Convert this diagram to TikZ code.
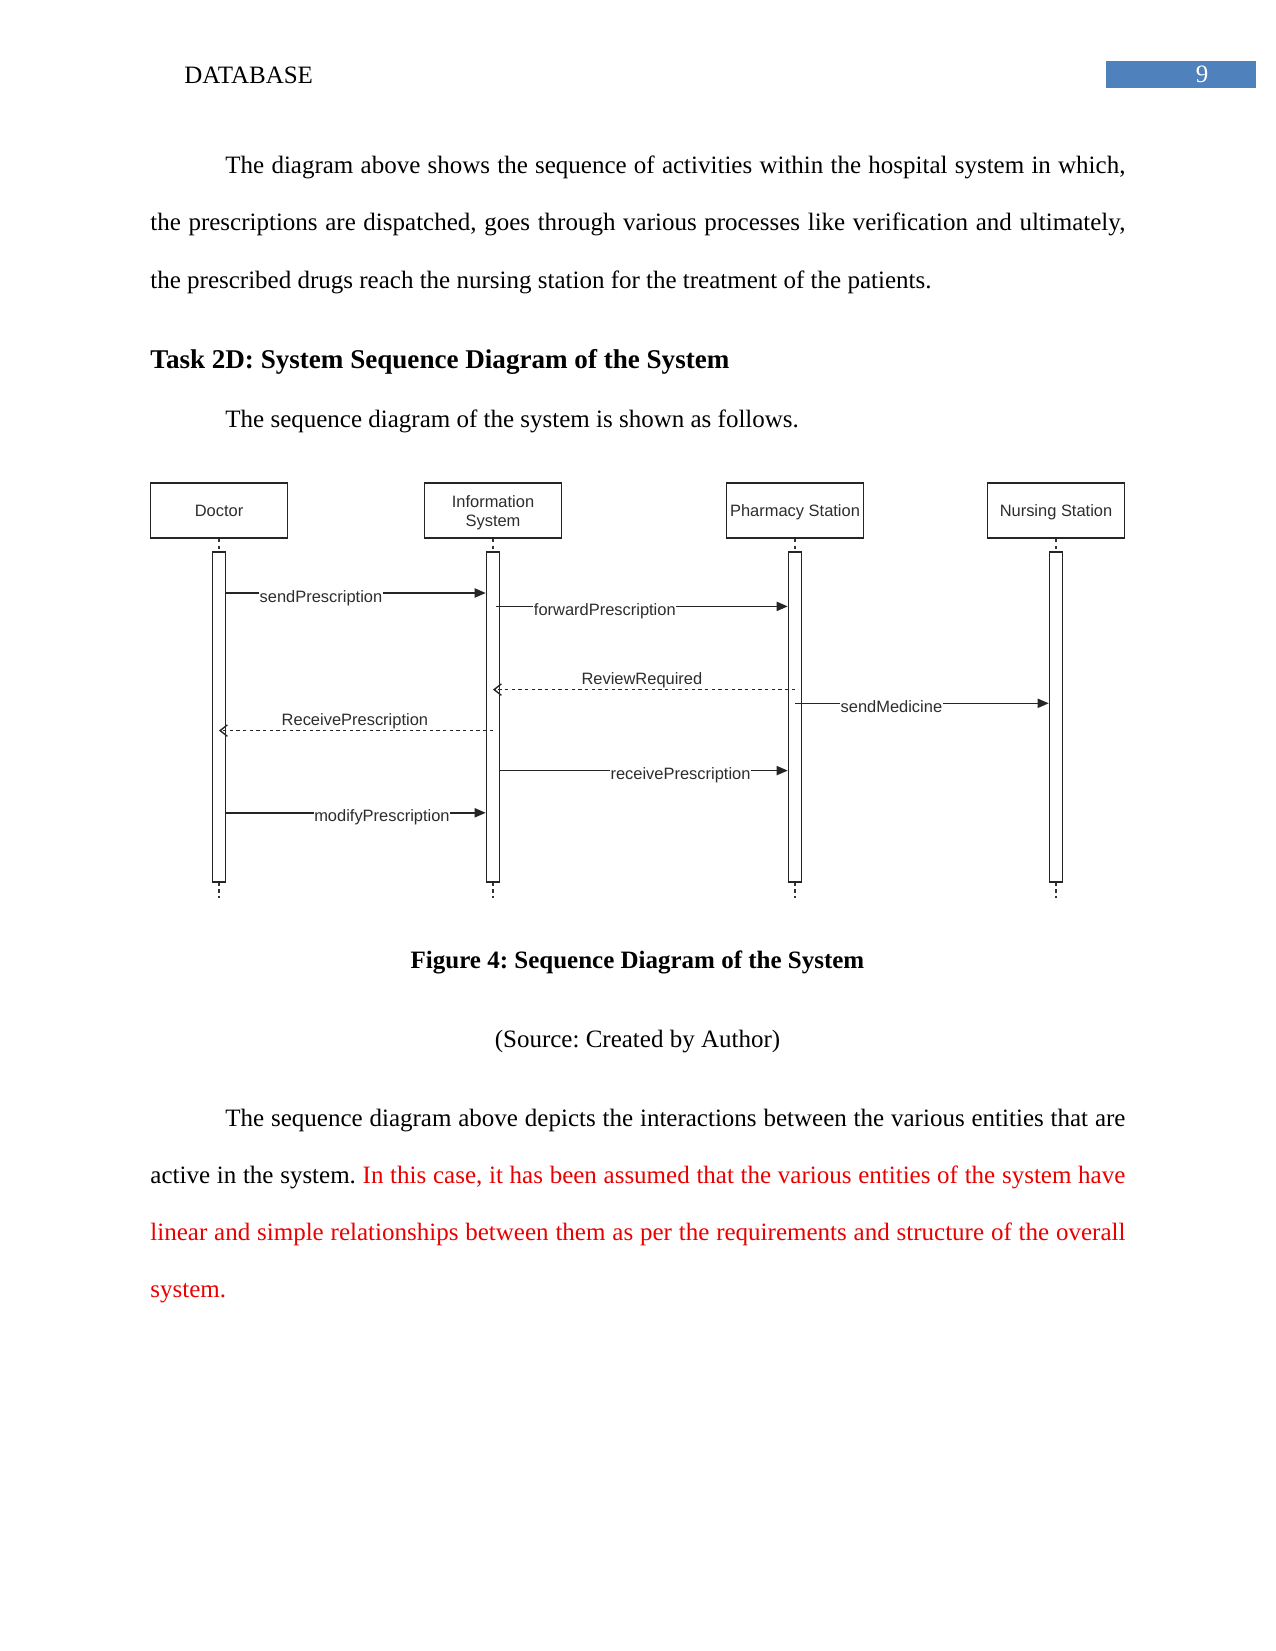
\documentclass[tikz,border=0pt]{standalone}
\usepackage{fontspec}
\setmainfont{Liberation Serif}
\newfontfamily\dsans{Liberation Sans}
\usetikzlibrary{arrows.meta}
\definecolor{headblue}{RGB}{79,129,189}
\definecolor{txtred}{RGB}{235,0,0}
\definecolor{dtext}{RGB}{45,45,45}
\frenchspacing
\begin{document}
\begin{tikzpicture}[x=0.48pt,y=-0.48pt,
  body/.style={anchor=base west, inner sep=0pt, font=\fontsize{12}{14}\selectfont\frenchspacing},
  bodyc/.style={anchor=base, inner sep=0pt, font=\fontsize{12}{14}\selectfont\frenchspacing},
  actor/.style={draw=black!85, line width=0.8pt, minimum width=65.8pt, minimum height=26.4pt, inner sep=0pt,
    align=center, text=dtext, font=\dsans\fontsize{7.9}{9.2}\selectfont},
  oneline/.style={text height=6.6pt, text depth=0.9pt},
  lifebar/.style={draw=black!85, line width=0.8pt, fill=white, minimum width=6.2pt, minimum height=158.2pt, inner sep=0pt},
  life/.style={draw=black!80, line width=0.55pt, dash pattern=on 1.6pt off 1.6pt},
  msg/.style={draw=black!85, line width=0.7pt, -{Triangle[length=5.3pt,width=4.4pt]}},
  ret/.style={draw=black!85, line width=0.65pt, dash pattern=on 1.6pt off 1.6pt, -{Straight Barb[length=3.5pt,width=5.5pt]}},
  lbl/.style={anchor=base, yshift=-4.4pt, fill=white, inner xsep=0.3pt, inner ysep=0.8pt, text=dtext, font=\dsans\fontsize{7.9}{9.2}\selectfont},
  lblup/.style={anchor=base, yshift=2.4pt, inner sep=0pt, text=dtext, font=\dsans\fontsize{7.9}{9.2}\selectfont}
]
\fill[white] (0,0) rectangle (1275,1651);
\path[use as bounding box] (0,0) rectangle (1275,1651);

% header
\node[body] (hdr) at (184,83.5) {DATABASE};
\node[fill=headblue, minimum width=72pt, minimum height=12.96pt, inner sep=0pt] (pgbox) at (1181,74.5) {};
\node[bodyc, text=white] (pgnum) at (1202,83) {9};

% paragraph 1
\node[body] (p1a) at (225,173.5) {\hbox to 432pt{The diagram above shows the sequence of activities within the hospital system in which,}};
\node[body] (p1b) at (150,230.8) {\hbox to 468pt{the prescriptions are dispatched, goes through various processes like verification and ultimately,}};
\node[body] (p1c) at (150,288) {the prescribed drugs reach the nursing station for the treatment of the patients.};

% heading
\node[body, font=\fontsize{13}{15}\selectfont\bfseries] (head) at (150,368) {Task 2D: System Sequence Diagram of the System};
\node[body] (p2) at (225,427.5) {The sequence diagram of the system is shown as follows.};

% diagram: actors
\node[actor, oneline] (doc) at (219,510.5) {Doctor};
\node[actor] (info) at (493,510.5) {};
\node[align=center, inner sep=0pt, text=dtext, font=\dsans\fontsize{7.9}{9.2}\selectfont] (infotxt) at (493,512.5) {Information\\System};
\node[actor, oneline] (pharm) at (795,510.5) {Pharmacy Station};
\node[actor, oneline] (nurse) at (1056,510.5) {Nursing Station};

% activation bars
\node[lifebar] (dbar) at (219,717) {};
\node[lifebar] (ibar) at (493,717) {};
\node[lifebar] (pbar) at (795,717) {};
\node[lifebar] (nbar) at (1056,717) {};

% lifeline ends
\coordinate (dend) at (219,898);
\coordinate (iend) at (493,898);
\coordinate (pend) at (795,898);
\coordinate (nend) at (1056,898);
\draw[life] (doc.south) -- (dbar.north);
\draw[life] (info.south) -- (ibar.north);
\draw[life] (pharm.south) -- (pbar.north);
\draw[life] (nurse.south) -- (nbar.north);
\draw[life] (dbar.south) -- (dend);
\draw[life] (ibar.south) -- (iend);
\draw[life] (pbar.south) -- (pend);
\draw[life] (nbar.south) -- (nend);

% message levels
\coordinate (m1) at (0,593);
\coordinate (m2) at (0,606.4);
\coordinate (m3) at (0,689.6);
\coordinate (m4) at (0,703.3);
\coordinate (m5) at (0,730.6);
\coordinate (m6) at (0,770.6);
\coordinate (m7) at (0,812.8);
\coordinate (ifw) at (496,0);

\draw[msg] (dbar.east |- m1) -- (ibar.west |- m1) node[lbl, pos=0.365] (l1) {sendPrescription};
\draw[msg] (ifw |- m2) -- (pbar.west |- m2) node[lbl, pos=0.373] (l2) {forwardPrescription};
\draw[ret] (pbar.center |- m3) -- (ibar.center |- m3) node[lblup, pos=0.507] (l3) {ReviewRequired};
\draw[msg] (pbar.center |- m4) -- (nbar.west |- m4) node[lbl, pos=0.38] (l4) {sendMedicine};
\draw[ret] (ibar.center |- m5) -- (dbar.center |- m5) node[lblup, pos=0.504] (l5) {ReceivePrescription};
\draw[msg] (ibar.east |- m6) -- (pbar.west |- m6) node[lbl, pos=0.627] (l6) {receivePrescription};
\draw[msg] (dbar.east |- m7) -- (ibar.west |- m7) node[lbl, pos=0.6] (l7) {modifyPrescription};

% captions
\node[bodyc, font=\fontsize{12}{14}\selectfont\bfseries\frenchspacing] (cap) at (637.5,968.5) {Figure 4: Sequence Diagram of the System};
\node[bodyc] (src) at (637.5,1047.5) {(Source: Created by Author)};

% paragraph 3
\node[body] (p3a) at (225,1126.5) {\hbox to 432pt{The sequence diagram above depicts the interactions between the various entities that are}};
\node[body] (p3b) at (150,1183.5) {\hbox to 468pt{active in the system. \textcolor{txtred}{In} \textcolor{txtred}{this} \textcolor{txtred}{case,} \textcolor{txtred}{it} \textcolor{txtred}{has} \textcolor{txtred}{been} \textcolor{txtred}{assumed} \textcolor{txtred}{that} \textcolor{txtred}{the} \textcolor{txtred}{various} \textcolor{txtred}{entities} \textcolor{txtred}{of} \textcolor{txtred}{the} \textcolor{txtred}{system} \textcolor{txtred}{have}}};
\node[body, text=txtred] (p3c) at (150,1240) {\hbox to 468pt{linear and simple relationships between them as per the requirements and structure of the overall}};
\node[body, text=txtred] (p3d) at (150,1297) {system.};
\end{tikzpicture}
\end{document}
